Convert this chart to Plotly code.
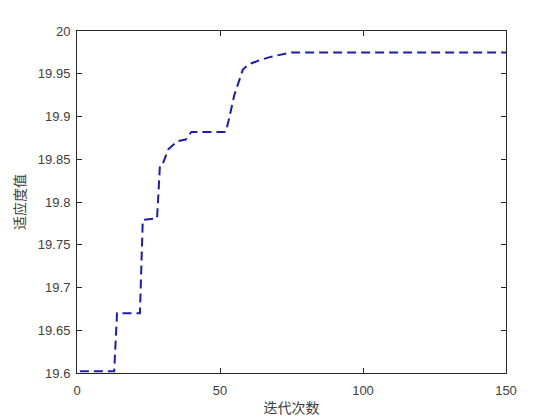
import plotly.graph_objects as go

iterations = [1, 13, 14, 22, 23, 28, 29, 30, 32, 35, 38, 40, 52, 53, 55, 57, 58, 60, 64, 68, 72, 75, 150]
fitness = [19.602, 19.602, 19.670, 19.670, 19.779, 19.781, 19.843, 19.845, 19.862, 19.871, 19.873,
           19.882, 19.882, 19.895, 19.925, 19.946, 19.955, 19.961, 19.966, 19.970, 19.973, 19.975, 19.975]

x_ticks = [0, 50, 100, 150]
y_ticks = [19.6, 19.65, 19.7, 19.75, 19.8, 19.85, 19.9, 19.95, 20]
y_tick_text = ["19.6", "19.65", "19.7", "19.75", "19.8", "19.85", "19.9", "19.95", "20"]

fig = go.Figure()
fig.add_trace(go.Scatter(
    x=iterations, y=fitness, mode="lines",
    line=dict(color="#1c1cb4", width=2, dash="9px,5px"),
    showlegend=False,
))

axis_common = dict(
    showgrid=False, zeroline=False, showline=True, linecolor="#262626", linewidth=1,
    mirror="ticks", ticks="inside", ticklen=5, tickcolor="#262626",
    tickfont=dict(family="Liberation Sans, Arial", size=13, color="#404040"),
)

fig.update_layout(
    width=560, height=420,
    margin=dict(l=65, r=62, t=23, b=55),
    paper_bgcolor="white", plot_bgcolor="white",
    xaxis=dict(range=[0, 150], tickvals=x_ticks, ticklabelstandoff=5, title=dict(
        text="迭代次数", font=dict(family="Noto Sans CJK SC", size=14, color="#404040"), standoff=6),
        **axis_common),
    yaxis=dict(range=[19.6, 20], tickvals=y_ticks, ticktext=y_tick_text, ticklabelstandoff=3, title=dict(
        text="适应度值", font=dict(family="Noto Sans CJK SC", size=14, color="#404040"), standoff=8),
        **axis_common),
)

fig.write_html("out.html")
